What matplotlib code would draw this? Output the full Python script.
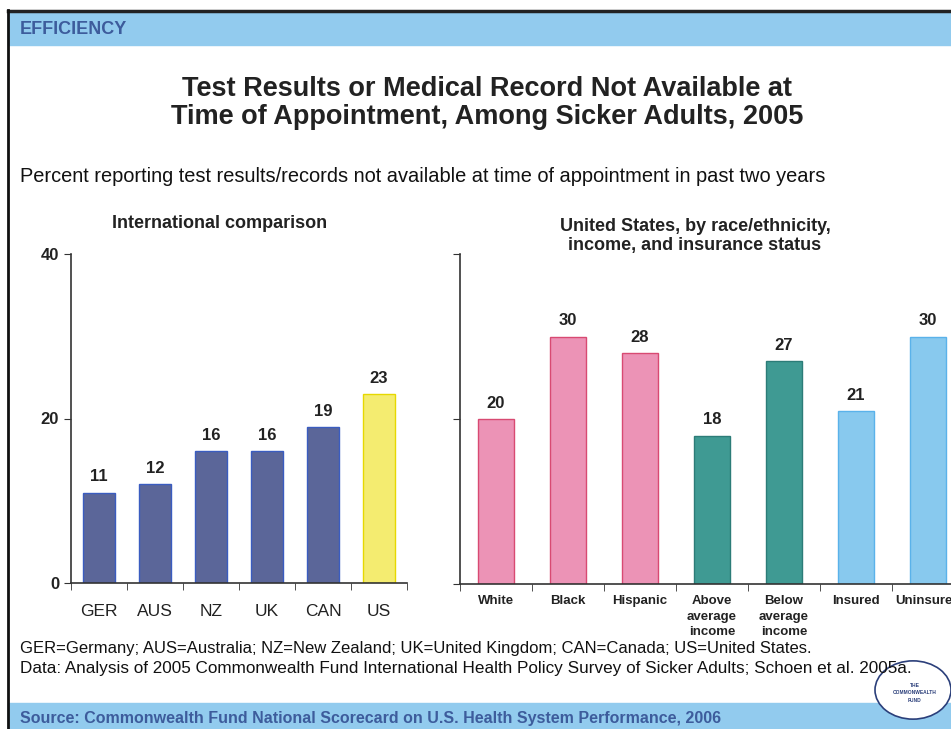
import matplotlib.pyplot as plt
from matplotlib.patches import Rectangle, Circle

# ── Data ─────────────────────────────────────────────────────
intl_labels = ["GER", "AUS", "NZ", "UK", "CAN", "US"]
intl_values = [11, 12, 16, 16, 19, 23]

us_labels = ["White", "Black", "Hispanic", "Above\naverage\nincome",
             "Below\naverage\nincome", "Insured", "Uninsured"]
us_values = [20, 30, 28, 18, 27, 21, 30]

y_ticks = [0, 20, 40]

# ── Styles ───────────────────────────────────────────────────
W, H = 951, 729
SANS = ["Liberation Sans", "DejaVu Sans"]
NARROW = ["Liberation Sans Narrow", "Liberation Sans", "DejaVu Sans"]
plt.rcParams["font.family"] = SANS

navy, yellow = "#5b6699", "#f4ec70"
pink, teal, sky = "#ec93b6", "#3f9a93", "#88c9ee"
intl_fill = [navy] * 5 + [yellow]
intl_edge = ["#3a5cc0"] * 5 + ["#e6d800"]
us_fill = [pink, pink, pink, teal, teal, sky, sky]
us_edge = ["#d84a72"] * 3 + ["#2c7c78"] * 2 + ["#5ab2ea"] * 2
band = "#92cbee"
band_text = "#3d5c9c"


def px(x, y):
    return x / W, 1 - y / H


fig = plt.figure(figsize=(W / 100, H / 100), dpi=100)

# page frame: top rule, left rule, header and footer bands
fig.patches.append(Rectangle(px(8, 45), (W - 8) / W, 33 / H, color=band,
                             transform=fig.transFigure, zorder=0))
fig.patches.append(Rectangle(px(8, 729), (W - 8) / W, 26 / H, color=band,
                             transform=fig.transFigure, zorder=0))
fig.add_artist(plt.Line2D([8 / W, 1], [1 - 11 / H] * 2, color="#222222",
                          lw=2.5, transform=fig.transFigure))
fig.add_artist(plt.Line2D([8 / W] * 2, [1 - 10 / H, 0], color="#111111",
                          lw=2, transform=fig.transFigure))

fig.text(*px(20, 29), "EFFICIENCY", color=band_text, fontsize=13,
         va="center", family=NARROW, weight="bold")
fig.text(*px(20, 718), "Source: Commonwealth Fund National Scorecard on "
         "U.S. Health System Performance, 2006", color=band_text,
         fontsize=11.5, va="center", family=NARROW, weight="bold")

# titles
fig.text(*px(487, 89), "Test Results or Medical Record Not Available at",
         ha="center", va="center", fontsize=19.5, weight="bold",
         color="#222222")
fig.text(*px(487, 117), "Time of Appointment, Among Sicker Adults, 2005",
         ha="center", va="center", fontsize=19.5, weight="bold",
         color="#222222")
fig.text(*px(20, 177), "Percent reporting test results/records not available "
         "at time of appointment in past two years",
         va="center", fontsize=14.4, color="#111111")
fig.text(*px(220, 223), "International comparison", ha="center",
         va="center", fontsize=13, weight="bold", color="#222222")
fig.text(*px(695, 236), "United States, by race/ethnicity,\n"
         "income, and insurance status", ha="center", va="center",
         fontsize=13, weight="bold", color="#222222", linespacing=1.2)

# footnotes (drawn above the logo disc)
fig.text(*px(20, 649), "GER=Germany; AUS=Australia; NZ=New Zealand; "
         "UK=United Kingdom; CAN=Canada; US=United States.",
         va="center", fontsize=12, family=NARROW, color="#111111",
         zorder=7)
fig.text(*px(20, 668), "Data: Analysis of 2005 Commonwealth Fund "
         "International Health Policy Survey of Sicker Adults; "
         "Schoen et al. 2005a.", va="center", fontsize=12.3,
         family=NARROW, color="#111111", zorder=7)

# logo
fig.patches.append(Circle(px(913, 690), 38 / W, transform=fig.transFigure,
                          facecolor="white", edgecolor="#2b3f7a", lw=1.2,
                          zorder=5))
fig.text(*px(915, 693), "THE\nCOMMONWEALTH\nFUND", ha="center", va="center",
         fontsize=3.5, weight="bold", color="#2b3f7a", zorder=6,
         linespacing=1.6)


def style_axes(ax, n):
    ax.set_xlim(-0.5, n - 0.5)
    ax.set_ylim(0, 40)
    ax.set_yticks(y_ticks)
    ax.set_xticks([i - 0.5 for i in range(n + 1)], minor=True)
    ax.tick_params(axis="x", which="major", length=0)
    ax.tick_params(axis="x", which="minor", length=5, direction="out",
                   color="#333333")
    ax.tick_params(axis="y", length=5, direction="out", color="#333333")
    for s in ("top", "right"):
        ax.spines[s].set_visible(False)
    for s in ("left", "bottom"):
        ax.spines[s].set_color("#333333")
        ax.spines[s].set_linewidth(1.2)
    ax.patch.set_alpha(0)


# left panel: international comparison
ax1 = fig.add_axes([71 / W, 1 - 583 / H, 336 / W, 329 / H])
x1 = range(len(intl_values))
ax1.bar(x1, intl_values, width=0.57, color=intl_fill, edgecolor=intl_edge,
        linewidth=1)
for i, v in zip(x1, intl_values):
    ax1.text(i, v + 1.0, str(v), ha="center", va="bottom", fontsize=12,
             weight="bold", color="#222222")
style_axes(ax1, len(intl_values))
ax1.set_xticks(list(x1))
ax1.set_xticklabels(intl_labels, fontsize=12.5, color="#222222")
ax1.tick_params(axis="x", which="major", pad=15)
ax1.set_yticklabels([str(t) for t in y_ticks], fontsize=12, weight="bold",
                    color="#222222")

# right panel: United States breakdown (runs past the page edge)
ax2 = fig.add_axes([460 / W, 1 - 584 / H, 504 / W, 330 / H])
x2 = range(len(us_values))
ax2.bar(x2, us_values, width=0.5, color=us_fill, edgecolor=us_edge,
        linewidth=1)
for i, v in zip(x2, us_values):
    ax2.text(i, v + 1.0, str(v), ha="center", va="bottom", fontsize=12,
             weight="bold", color="#222222")
style_axes(ax2, len(us_values))
ax2.set_xticks(list(x2))
ax2.set_xticklabels(us_labels, fontsize=9.5, weight="bold", color="#222222",
                    va="top", linespacing=1.4)
ax2.tick_params(axis="x", which="major", pad=8)
ax2.set_yticklabels([])

fig.savefig("out.png", dpi=100)
